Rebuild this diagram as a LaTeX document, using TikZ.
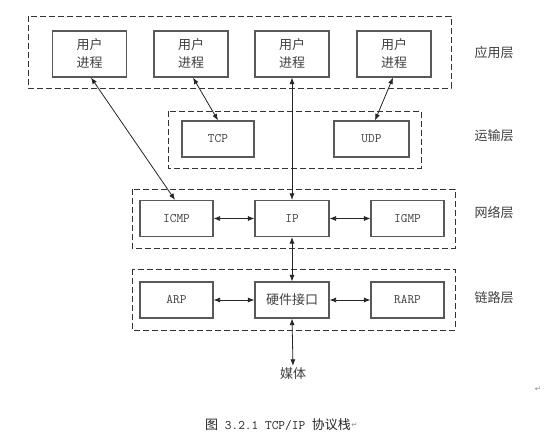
\documentclass[tikz,border=0pt]{standalone}
\usepackage{fontspec}
\newfontfamily\cjkfam{Noto Sans CJK SC}
\newfontfamily\symfam{DejaVu Sans}
\usetikzlibrary{arrows.meta}
\newcommand\zhf{\cjkfam\fontsize{13}{18}\selectfont}
\newcommand\latf{\ttfamily\fontsize{13}{16}\selectfont}
\begin{document}
\begin{tikzpicture}[x=1pt,y=-1pt,
  box/.style={draw=black!65,line width=1.1pt,inner sep=0pt,text=black!75,align=center},
  upbox/.style={box,minimum width=74pt,minimum height=46pt,font=\zhf},
  pbox/.style={box,minimum width=73pt,minimum height=36pt,font=\latf},
  layer/.style={draw=black!80,line width=0.9pt,dash pattern=on 6pt off 3pt},
  lbl/.style={font=\zhf,text=black!75,inner sep=2pt},
  conn/.style={line width=0.8pt,draw=black!85,{Latex[length=6.5pt,width=5pt]}-{Latex[length=6.5pt,width=5pt]}},
  pmark/.style={font=\symfam\fontsize{7.5}{8}\selectfont,text=black!45,inner sep=0pt}
]
\useasboundingbox (0,0) rectangle (553,443);
\fill[white] (0,0) rectangle (553,443);

% layer frames
\draw[layer] (28,16) rectangle (451,88);
\draw[layer] (168,111) rectangle (421,168);
\draw[layer] (132,189) rectangle (455,248);
\draw[layer] (132,269) rectangle (455,330);

% application layer
\node[upbox] (u1) at (89.5,54) {用户\\进程};
\node[upbox] (u2) at (191,54) {用户\\进程};
\node[upbox] (u3) at (292,54) {用户\\进程};
\node[upbox] (u4) at (394,54) {用户\\进程};

% transport layer
\node[pbox,minimum width=72pt] (tcp) at (218,139) {TCP};
\node[pbox,minimum width=75pt] (udp) at (371.5,139) {UDP};

% network layer
\node[pbox] (icmp) at (176.5,218.5) {ICMP};
\node[pbox,minimum width=74pt] (ip) at (292,218.5) {IP};
\node[pbox] (igmp) at (407.5,218.5) {IGMP};

% link layer
\node[pbox] (arp) at (176.5,300) {ARP};
\node[pbox,minimum width=74pt,font=\zhf] (hw) at (292,300) {硬件接口};
\node[pbox] (rarp) at (407.5,300) {RARP};

% layer labels
\node[lbl] (lapp) at (494,53) {应用层};
\node[lbl] (ltr) at (494,136) {运输层};
\node[lbl] (lnet) at (494,213) {网络层};
\node[lbl] (llink) at (494,298) {链路层};

% medium
\node[lbl] (media) at (293,374) {媒体};

% connectors
\draw[conn] ([xshift=1.5pt]u1.south) -- ([xshift=-1.5pt]icmp.north);
\draw[conn] ([xshift=2pt]u2.south) -- (tcp.north);
\draw[conn] (u3.south) -- (ip.north);
\draw[conn] ([xshift=-1pt]u4.south) -- ([xshift=3.5pt]udp.north);
\draw[conn] (icmp.east) -- (ip.west);
\draw[conn] (ip.east) -- (igmp.west);
\draw[conn] (ip.south) -- (hw.north);
\draw[conn] (arp.east) -- (hw.west);
\draw[conn] (hw.east) -- (rarp.west);
\draw[conn] (hw.south) -- (media.north);

% paragraph marks and caption
\node[pmark] (pm1) at (538,389) {↵};
\node[inner sep=0pt,text=black!85,anchor=west] (cap) at (205,425)
  {{\zhf 图}{\latf\ 3.2.1 TCP/IP }{\zhf 协议栈}};
\node[pmark,anchor=west] (pm2) at (cap.east) {↵};
\end{tikzpicture}
\end{document}
